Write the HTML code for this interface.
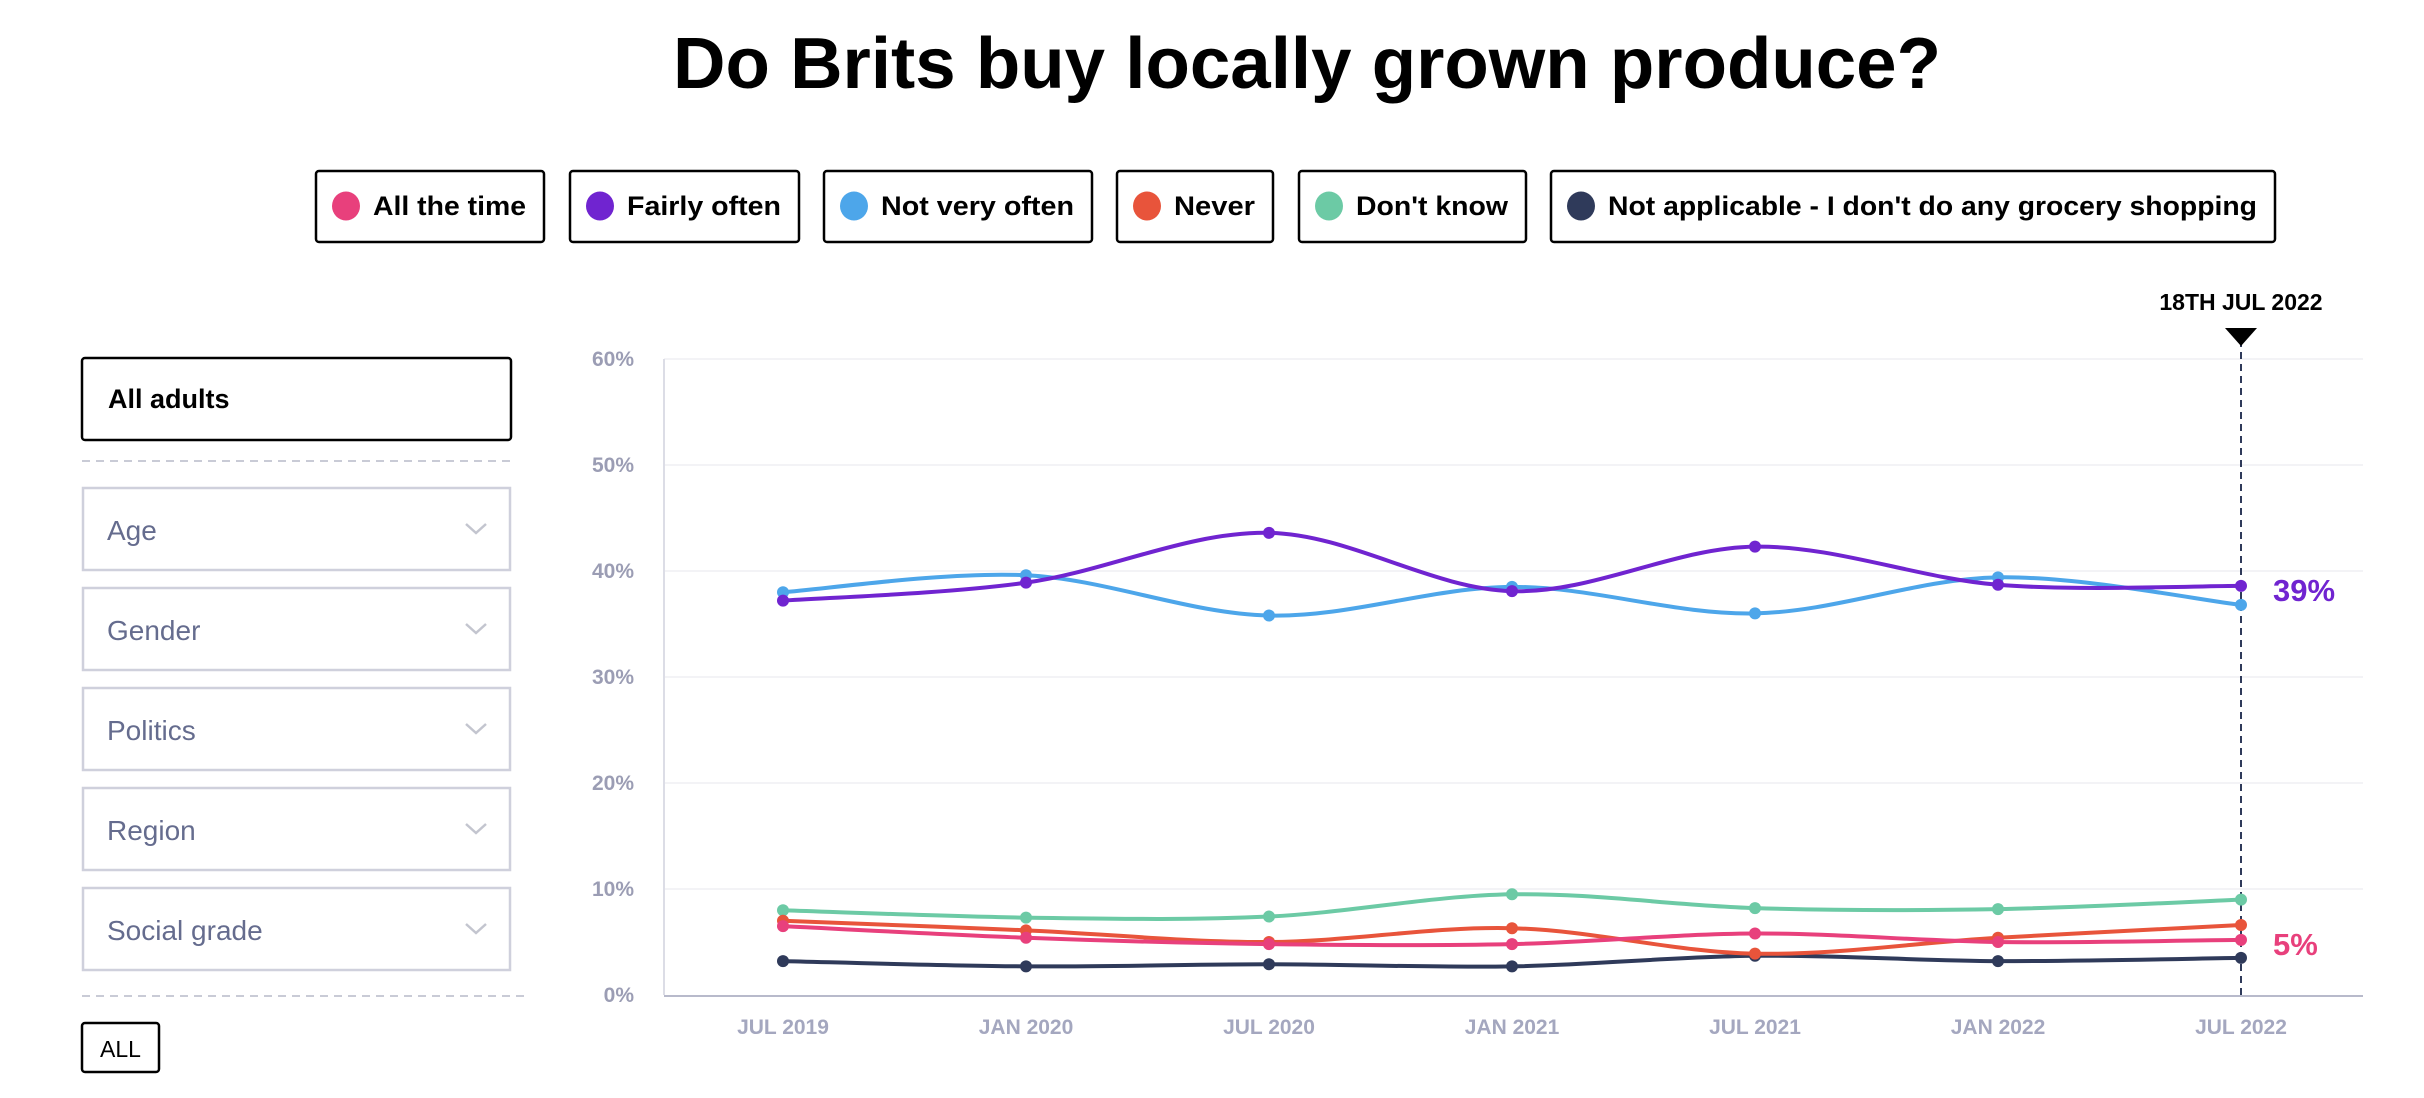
<!DOCTYPE html>
<html><head><meta charset="utf-8">
<style>
html,body{margin:0;padding:0;background:#fff;width:2424px;height:1098px;overflow:hidden;font-family:"Liberation Sans",sans-serif}
svg{display:block}
</style></head>
<body>
<svg id="svg" width="2424" height="1098" viewBox="0 0 2424 1098" xmlns="http://www.w3.org/2000/svg" font-family="Liberation Sans, sans-serif">
  <text x="1307" y="88" text-anchor="middle" font-size="72" font-weight="bold" fill="#000" textLength="1268" lengthAdjust="spacingAndGlyphs">Do Brits buy locally grown produce?</text>
  <g id="legend"></g>

  <g>
    <rect x="82" y="358" width="429" height="82" rx="3" fill="#fff" stroke="#000" stroke-width="2.5"/>
    <text x="108" y="408" font-size="27" font-weight="bold" fill="#000">All adults</text>
    <line x1="82" y1="461" x2="511" y2="461" stroke="#c9cbd6" stroke-width="2" stroke-dasharray="8,6"/>
    <g id="dropdowns"></g>
    <line x1="82" y1="996" x2="524" y2="996" stroke="#c9cbd6" stroke-width="2" stroke-dasharray="8,6"/>
    <rect x="82" y="1023" width="77" height="49" rx="3" fill="#fff" stroke="#000" stroke-width="2.5"/>
    <text x="120.5" y="1057" text-anchor="middle" font-size="23" fill="#000">ALL</text>
  </g>

  <g id="chart"></g>
</svg>
<script>
const categories = ["JUL 2019","JAN 2020","JUL 2020","JAN 2021","JUL 2021","JAN 2022","JUL 2022"];
const yTicks = [0,10,20,30,40,50,60];
const seriesNames = ["All the time","Fairly often","Not very often","Never","Don't know","Not applicable - I don't do any grocery shopping"];
const seriesColors = ["#e8407c","#7024d0","#4da6ea","#e8543b","#6ccaa5","#2f3a5a"];
const allTheTime = [6.5,5.4,4.8,4.8,5.8,5.0,5.2];
const fairlyOften = [37.2,38.9,43.6,38.1,42.3,38.7,38.6];
const notVeryOften = [38.0,39.6,35.8,38.5,36.0,39.4,36.8];
const never = [7.0,6.1,5.0,6.3,3.9,5.4,6.6];
const dontKnow = [8.0,7.3,7.4,9.5,8.2,8.1,9.0];
const notApplicable = [3.2,2.7,2.9,2.7,3.7,3.2,3.5];
const endLabels = ["39%","5%"];
const dropdownLabels = ["Age","Gender","Politics","Region","Social grade"];

const NS = "http://www.w3.org/2000/svg";
function mk(tag, attrs, parent){const e=document.createElementNS(NS,tag);for(const k in attrs)e.setAttribute(k,attrs[k]);parent.appendChild(e);return e;}

// legend
const legend=document.getElementById('legend');
const legBoxes=[[316,544],[570,799],[824,1092],[1117,1273],[1299,1526],[1551,2275]];
seriesNames.forEach((n,i)=>{
  const [x0,x1]=legBoxes[i];
  const r=mk('rect',{x:x0,y:171,width:x1-x0,height:71,rx:3,fill:'#fff',stroke:'#000','stroke-width':2.5},legend);
  
  
  const c=mk('ellipse',{cx:x0+30,cy:206,rx:14,ry:14.5,fill:seriesColors[i]},legend);
  
  
  const t=mk('text',{x:x0+57,y:215,'font-size':27,'font-weight':'bold',fill:'#000',textLength:(x1-x0)-75,lengthAdjust:'spacingAndGlyphs'},legend);
  t.textContent=n;
  
  
});

// dropdowns
const dd=document.getElementById('dropdowns');
dropdownLabels.forEach((l,i)=>{
  const y=488+i*100;
  const r=mk('rect',{x:83,y:y,width:427,height:82,fill:'#fff',stroke:'#cfd0dc','stroke-width':2.5},dd);
  
  
  const t=mk('text',{x:107,y:y+52,'font-size':28,fill:'#656c8e'},dd);
  t.textContent=l;
  
  
  const p=mk('path',{d:`M466 ${y+36} L476 ${y+45} L486 ${y+36}`,fill:'none',stroke:'#c3c5cf','stroke-width':2.5},dd);
  
  
});

// chart
const chart=document.getElementById('chart');
const X0=783, XSTEP=(2241-783)/6, Y0=995, YTOP=359;
const xPos=i=>X0+i*XSTEP;
const yPos=v=>Y0-(v/60)*(Y0-YTOP);
yTicks.forEach(v=>{
  if(v>0){const g=mk('line',{x1:664,x2:2363,y1:yPos(v),y2:yPos(v),stroke:'#f3f3f6','stroke-width':2},chart);
  
  }
  const t=mk('text',{x:634,y:yPos(v)+7,'text-anchor':'end','font-size':21,'font-weight':'bold',fill:'#9b9db4'},chart);
  t.textContent=v+'%';
  
  
});
const ya=mk('line',{x1:664,x2:664,y1:YTOP,y2:Y0,stroke:'#dcdde6','stroke-width':2},chart);


const xa=mk('line',{x1:664,x2:2363,y1:Y0+1,y2:Y0+1,stroke:'#b8bacb','stroke-width':2},chart);


categories.forEach((c,i)=>{
  const t=mk('text',{x:xPos(i),y:1034,'text-anchor':'middle','font-size':21,'font-weight':'bold',fill:'#a4a7bf'},chart);
  t.textContent=c;
  
  
});
// marker line
const ml=mk('line',{x1:xPos(6),x2:xPos(6),y1:340,y2:Y0,stroke:'#2f3a5a','stroke-width':2,'stroke-dasharray':'7,5'},chart);


const tri=mk('path',{d:`M${xPos(6)-16} 328 L${xPos(6)+16} 328 L${xPos(6)} 346 Z`,fill:'#000'},chart);


const dl=mk('text',{x:xPos(6),y:310,'text-anchor':'middle','font-size':23,'font-weight':'bold',fill:'#000'},chart);
dl.textContent='18TH JUL 2022';



function smoothPath(pts){
  let d=`M${pts[0][0]} ${pts[0][1]}`;
  for(let i=0;i<pts.length-1;i++){
    const p0=pts[i-1]||pts[i],p1=pts[i],p2=pts[i+1],p3=pts[i+2]||p2;
    const c1=[p1[0]+(p2[0]-p0[0])/6,p1[1]+(p2[1]-p0[1])/6];
    const c2=[p2[0]-(p3[0]-p1[0])/6,p2[1]-(p3[1]-p1[1])/6];
    d+=` C${c1[0]} ${c1[1]} ${c2[0]} ${c2[1]} ${p2[0]} ${p2[1]}`;
  }
  return d;
}
const allSeries=[notApplicable,dontKnow,notVeryOften,fairlyOften,never,allTheTime];
const colorIdx=[5,4,2,1,3,0];
allSeries.forEach((s,k)=>{
  const col=seriesColors[colorIdx[k]];
  const pts=s.map((v,i)=>[xPos(i),yPos(v)]);
  const p=mk('path',{d:smoothPath(pts),fill:'none',stroke:col,'stroke-width':4,'stroke-linecap':'round'},chart);
  
  
  pts.forEach(pt=>{
    const c=mk('circle',{cx:pt[0],cy:pt[1],r:6,fill:col},chart);
    
    
  });
});
const l1=mk('text',{x:2273,y:601,'font-size':31,'font-weight':'bold',fill:'#7024d0'},chart);
l1.textContent=endLabels[0];


const l2=mk('text',{x:2273,y:955,'font-size':31,'font-weight':'bold',fill:'#e8407c'},chart);
l2.textContent=endLabels[1];


</script>
</body></html>
